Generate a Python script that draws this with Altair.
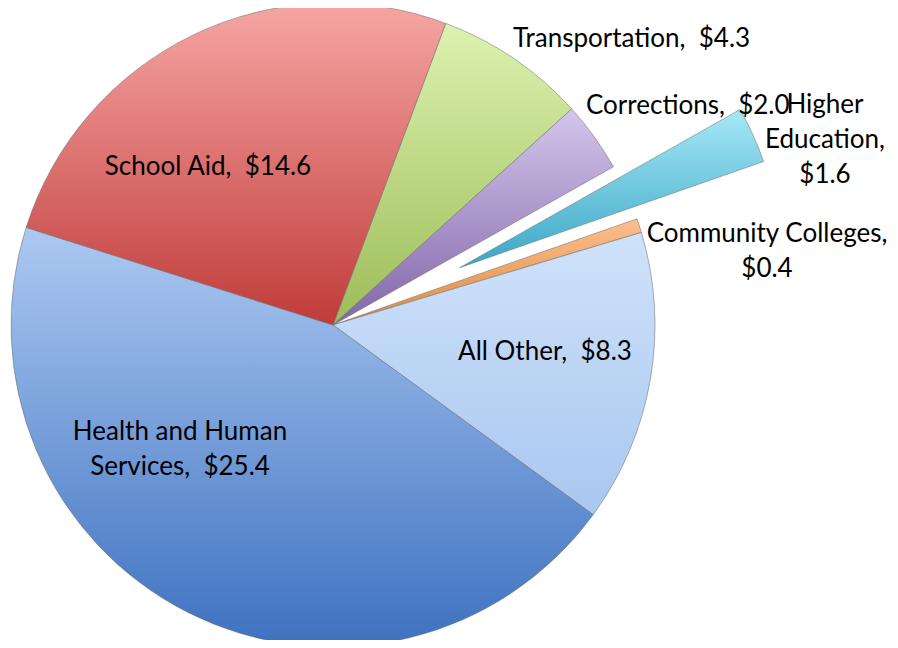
import math
import altair as alt
import pandas as pd

# ---- data (clockwise from the School Aid / Transportation boundary) ----
categories = ["Transportation", "Corrections", "Higher Education",
              "Community Colleges", "All Other", "Health and Human Services",
              "School Aid"]
values = [4.3, 2.0, 1.6, 0.4, 8.3, 25.4, 14.6]
NB = "\u00a0"
labels = [f"Transportation,{NB} $4.3", f"Corrections,{NB} $2.0", "Higher\nEducation,\n$1.6",
          "Community Colleges,\n$0.4", f"All Other,{NB} $8.3",
          f"Health and Human\nServices,{NB} $25.4", f"School Aid,{NB} $14.6"]

# ---- styles / layout ----
slice_colors = {
    "Transportation": ("#dcf2b0", "#9cbc58"),
    "Corrections": ("#d3c6ec", "#8266a8"),
    "Higher Education": ("#a6e8f6", "#3aa6c6"),
    "Community Colleges": ("#fbc08e", "#e0883c"),
    "All Other": ("#cfe2fa", "#a9c7f0"),
    "Health and Human Services": ("#adc9f2", "#3d71c0"),
    "School Aid": ("#f6a6a4", "#c03c3a"),
}
exploded = {"Higher Education": 139}
label_pos = {  # x, y (first baseline), align
    "Transportation": (505, 39, "left"),
    "Corrections": (578, 106, "left"),
    "Higher Education": (817, 105, "center"),
    "Community Colleges": (759, 234, "center"),
    "All Other": (537, 352, "center"),
    "Health and Human Services": (172, 432, "center"),
    "School Aid": (200, 167, "center"),
}

W, H = 882, 632
CX, CY, R = 325, 317, 322
START = math.radians(20.5)
total = sum(values)

df = pd.DataFrame({"order": list(range(len(categories))),
                   "category": categories, "value": values})

theta_scale = alt.Scale(domain=[0, total], range=[START, START + 2 * math.pi])

base = alt.Chart(df).transform_window(
    cum="sum(value)", sort=[alt.SortField("order")], frame=[None, 0]
).transform_calculate(start="datum.cum - datum.value", end="datum.cum")

layers = []
cum = 0.0
for cat, v in zip(categories, values):
    mid = START + (cum + v / 2) / total * 2 * math.pi
    cum += v
    off = exploded.get(cat, 0)
    ox, oy = off * math.sin(mid), -off * math.cos(mid)
    top, bot = slice_colors[cat]
    grad = alt.Gradient(gradient="linear", x1=0, y1=0, x2=0, y2=1,
                        stops=[alt.GradientStop(color=top, offset=0),
                               alt.GradientStop(color=bot, offset=1)])
    layers.append(
        base.transform_filter(alt.datum.category == cat)
        .mark_arc(radius=R, fill=grad, stroke="#6f6f6f", strokeWidth=0.9,
                  strokeOpacity=0.6)
        .encode(theta=alt.Theta("start:Q", scale=theta_scale),
                theta2="end:Q",
                x=alt.value(CX + ox), y=alt.value(CY + oy))
    )

lab = pd.DataFrame({
    "category": categories, "label": labels,
    "lx": [label_pos[c][0] for c in categories],
    "ly": [label_pos[c][1] for c in categories],
    "al": [label_pos[c][2] for c in categories],
})
for al in ["left", "center"]:
    layers.append(
        alt.Chart(lab).transform_filter(alt.datum.al == al)
        .mark_text(align=al, baseline="alphabetic", font="Lato", fontSize=26,
                   lineBreak="\n", lineHeight=35, color="#000000")
        .encode(x=alt.X("lx:Q", scale=None), y=alt.Y("ly:Q", scale=None),
                text="label:N")
    )

chart = alt.layer(*layers).properties(
    width=W, height=H, padding=0, autosize="none", background="white"
).configure_view(stroke=None)

chart.save("out.html", embed_options={"renderer": "svg", "actions": False})
